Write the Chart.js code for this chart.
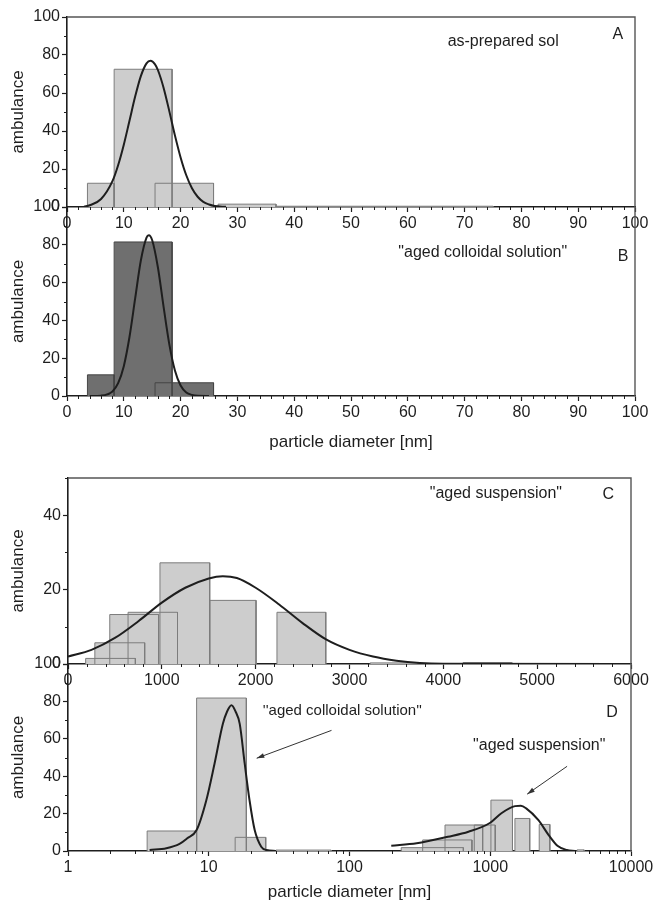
<!DOCTYPE html>
<html>
<head>
<meta charset="utf-8">
<script src="https://cdn.jsdelivr.net/npm/chart.js@4.4.1/dist/chart.umd.min.js"></script>
<style>
  html, body { margin: 0; padding: 0; background: #fff; }
  #wrap { position: relative; width: 653px; height: 903px; }
  #wrap canvas { position: absolute; left: 0; top: 0; }
</style>
</head>
<body>
<div id="wrap">
  <canvas id="cA" width="653" height="903"></canvas>
  <canvas id="cB" width="653" height="903"></canvas>
  <canvas id="cC" width="653" height="903"></canvas>
  <canvas id="cD" width="653" height="903"></canvas>
</div>
<script>
// --- panel A: as-prepared sol (diameter nm -> ambulance) ---
const binLoA = [3.6, 8.3, 15.5, 26.6, 36.8];
const binHiA = [8.3, 18.5, 25.8, 36.8, 75];
const binHA  = [12.5, 72.5, 12.5, 1.5, 0.4];
const fitXA = [3, 4, 6, 8, 9, 10, 11, 12, 13, 14, 14.7, 15.5, 16, 17, 18, 19, 20, 21, 22, 23, 24, 25, 26, 28];
const fitYA = [0.2, 0.9, 4.2, 13.6, 22, 32.8, 45.4, 58.1, 68.9, 75.6, 77, 75.1, 72.1, 62.8, 50.6, 37.7, 26.1, 16.7, 9.9, 5.4, 2.7, 1.3, 0.5, 0.1];

// --- panel B: aged colloidal solution ---
const binLoB = [3.6, 8.3, 15.5];
const binHiB = [8.3, 18.5, 25.8];
const binHB  = [11.2, 81.5, 7];
const fitXB = [4, 6, 8, 9, 10, 11, 12, 13, 14, 14.4, 15, 16, 17, 18, 19, 20, 21, 22, 23, 25];
const fitYB = [0, 0.2, 2.4, 6.8, 15.8, 31.2, 51.6, 71.7, 83.8, 85, 82.4, 68.1, 47.3, 27.6, 13.5, 5.6, 1.9, 0.6, 0.1, 0];

// --- panel C: aged suspension ---
const binLoC = [188, 286, 445, 640, 980, 1510, 2227, 3220, 4210];
const binHiC = [718, 817, 965, 1167, 1510, 2004, 2747, 3730, 4730];
const binHC  = [1.5, 5.7, 13.3, 13.9, 27.2, 17.1, 13.9, 0.3, 0.4];
const fitXC = [0, 250, 500, 750, 1000, 1250, 1500, 1650, 1800, 2000, 2250, 2500, 2750, 3000, 3250, 3500, 3750, 4000, 6000];
const fitYC = [2, 3.8, 7, 11.5, 16.5, 20.5, 23, 23.6, 23.1, 20.5, 16, 11, 6.6, 3.8, 2, 0.9, 0.3, 0.1, 0];

// --- panel D: both samples on a log axis ---
const binLoD = [3.65, 8.2, 15.4, 30, 233, 331, 477, 770, 1011, 1497, 2228, 4140];
const binHiD = [8.2, 18.5, 25.4, 74, 644, 741, 883, 1085, 1439, 1907, 2650, 4640];
const binHD  = [10.7, 81.8, 7.3, 0.5, 1.8, 5.9, 13.9, 13.9, 27.2, 17.4, 14.2, 0.6];
const fitXD1 = [3.8, 5, 6.2, 7, 8.2, 9.6, 11, 12.6, 13.5, 14.5, 15.5, 16.6, 18, 19.5, 21.2, 23.6, 25.7, 30];
const fitYD1 = [0.5, 1.5, 3.8, 6.7, 11.2, 27, 46.8, 68, 74.6, 77.9, 74.6, 68, 46.8, 27, 11.2, 2.3, 0.5, 0];
const fitXD2 = [198, 300, 500, 700, 1000, 1200, 1500, 1650, 1800, 2200, 2600, 3000, 3500, 4000];
const fitYD2 = [2.8, 4.1, 7.6, 10.3, 15.1, 20.2, 24, 24.2, 22.8, 16.5, 8.5, 2.8, 0.5, 0];

// tick labels
const xTicksLin = [0, 10, 20, 30, 40, 50, 60, 70, 80, 90, 100];
const yTicksAB = [0, 20, 40, 60, 80, 100];
const xTicksC = [0, 1000, 2000, 3000, 4000, 5000, 6000];
const yTicksC = [0, 20, 40];
const xTicksD = [1, 10, 100, 1000, 10000];
const yTicksD = [0, 20, 40, 60, 80, 100];

const FONT = "'Liberation Sans', Arial, sans-serif";
const INK = '#1e1e1e';
const LIGHT = '#cdcdcd', LIGHT_EDGE = '#7c7c7c';
const DARK = '#6f6f6f', DARK_EDGE = '#454545';

function barSets(lo, hi, h, fill, edge) {
  // each histogram bin as a closed step outline filled down to zero
  return lo.map((x0, i) => ({
    type: 'line',
    data: [{x: x0, y: 0}, {x: x0, y: h[i]}, {x: hi[i], y: h[i]}, {x: hi[i], y: 0}],
    fill: 'origin',
    backgroundColor: fill,
    borderColor: edge,
    borderWidth: 1,
    pointRadius: 0,
    tension: 0,
    order: 1
  }));
}
function fitSet(xs, ys) {
  return {
    type: 'line',
    data: xs.map((x, i) => ({x: x, y: ys[i]})),
    borderColor: INK, borderWidth: 2, pointRadius: 0, fill: false,
    cubicInterpolationMode: 'monotone', order: 0
  };
}
function minorLin(min, max, step, majorStep) {
  const out = [];
  for (let v = min; v <= max + 1e-9; v += step) {
    if (Math.abs(v / majorStep - Math.round(v / majorStep)) > 1e-6) out.push(v);
  }
  return out;
}
function minorLog(decades) {
  const out = [];
  decades.forEach(d => { for (let k = 2; k <= 9; k++) out.push(k * d); });
  return out;
}

const deco = {
  id: 'deco',
  afterDraw(chart, args, o) {
    const {ctx, chartArea: a} = chart;
    const x = chart.scales.x, y = chart.scales.y;
    ctx.save();
    ctx.strokeStyle = INK; ctx.lineWidth = 1;
    ctx.beginPath();
    o.xMinor.forEach(v => {
      const px = Math.round(x.getPixelForValue(v)) + 0.5;
      ctx.moveTo(px, a.bottom); ctx.lineTo(px, a.bottom + 3);
    });
    o.yMinor.forEach(v => {
      const py = Math.round(y.getPixelForValue(v)) + 0.5;
      ctx.moveTo(a.left, py); ctx.lineTo(a.left - 3, py);
    });
    ctx.stroke();
    // frame on the right (and top)
    ctx.strokeStyle = '#555'; ctx.lineWidth = 1.4;
    ctx.beginPath();
    ctx.moveTo(a.right, a.bottom); ctx.lineTo(a.right, a.top);
    if (o.top) ctx.lineTo(a.left, a.top);
    ctx.stroke();
    // texts
    ctx.fillStyle = INK; ctx.textAlign = 'center'; ctx.textBaseline = 'middle';
    o.notes.forEach(n => {
      ctx.font = (n.size || 16) + 'px ' + FONT;
      ctx.fillText(n.t, x.getPixelForValue(n.x), y.getPixelForValue(n.y));
    });
    // arrows
    ctx.strokeStyle = '#333'; ctx.fillStyle = '#333'; ctx.lineWidth = 1;
    (o.arrows || []).forEach(r => {
      const x0 = x.getPixelForValue(r.x0), y0 = y.getPixelForValue(r.y0);
      const x1 = x.getPixelForValue(r.x1), y1 = y.getPixelForValue(r.y1);
      const ang = Math.atan2(y1 - y0, x1 - x0);
      ctx.beginPath(); ctx.moveTo(x0, y0); ctx.lineTo(x1, y1); ctx.stroke();
      ctx.beginPath();
      ctx.moveTo(x1, y1);
      ctx.lineTo(x1 - 8 * Math.cos(ang - 0.3), y1 - 8 * Math.sin(ang - 0.3));
      ctx.lineTo(x1 - 8 * Math.cos(ang + 0.3), y1 - 8 * Math.sin(ang + 0.3));
      ctx.closePath(); ctx.fill();
    });
    ctx.restore();
  }
};

function panel(id, p) {
  const tickFont = {family: FONT, size: 16};
  new Chart(document.getElementById(id), {
    type: 'line',
    data: {datasets: [fitSet(p.fitX, p.fitY)].concat(p.extraFit ? [p.extraFit] : [], barSets(p.lo, p.hi, p.h, p.fill, p.edge))},
    options: {
      responsive: false, animation: false, events: [],
      layout: {padding: {left: 0, top: p.area.t, right: 653 - p.area.r, bottom: 903 - p.area.b - p.xh}},
      plugins: {
        legend: {display: false}, tooltip: {enabled: false},
        filler: {drawTime: 'beforeDatasetsDraw'},
        deco: {xMinor: p.xMinor, yMinor: p.yMinor, top: p.top, notes: p.notes, arrows: p.arrows}
      },
      scales: {
        x: {
          type: p.xType, min: p.xMin, max: p.xMax, position: 'bottom',
          afterBuildTicks: s => { s.ticks = p.xTicks.map(v => ({value: v})); },
          afterFit: s => { s.height = p.xh; s.paddingLeft = 0; s.paddingRight = 0; },
          ticks: {color: INK, font: tickFont, padding: 2, maxRotation: 0, autoSkip: false, callback: v => String(v)},
          grid: {drawOnChartArea: false, tickLength: 5, tickColor: INK, tickWidth: 1.2},
          border: {color: INK, width: 1.6},
          title: {display: !!p.xTitle, text: p.xTitle || '', color: INK, font: {family: FONT, size: 17}, padding: {top: 0, bottom: 0}}
        },
        y: {
          type: 'linear', min: 0, max: p.yMax, position: 'left',
          afterBuildTicks: s => { s.ticks = p.yTicks.map(v => ({value: v})); },
          afterFit: s => { s.width = p.area.l; s.paddingTop = 0; s.paddingBottom = 0; },
          ticks: {color: INK, font: tickFont, padding: 2, callback: v => String(v)},
          grid: {drawOnChartArea: false, tickLength: 5, tickColor: INK, tickWidth: 1.2},
          border: {color: INK, width: 1.6},
          title: {display: true, text: 'ambulance', color: INK, font: {family: FONT, size: 17}, padding: {top: 8, bottom: 0}}
        }
      }
    },
    plugins: [deco]
  });
}

panel('cA', {
  area: {l: 67, t: 17, r: 635, b: 207}, xh: 30, top: true,
  xType: 'linear', xMin: 0, xMax: 100, xTicks: xTicksLin, yMax: 100, yTicks: yTicksAB,
  xMinor: minorLin(0, 100, 2, 10), yMinor: minorLin(0, 100, 10, 20),
  lo: binLoA, hi: binHiA, h: binHA, fill: LIGHT, edge: LIGHT_EDGE, fitX: fitXA, fitY: fitYA,
  notes: [{t: 'as-prepared sol', x: 76.8, y: 86.8}, {t: 'A', x: 97, y: 90.5}]
});
panel('cB', {
  area: {l: 67, t: 207, r: 635, b: 396}, xh: 57, top: false, xTitle: 'particle diameter [nm]',
  xType: 'linear', xMin: 0, xMax: 100, xTicks: xTicksLin, yMax: 100, yTicks: yTicksAB,
  xMinor: minorLin(0, 100, 2, 10), yMinor: minorLin(0, 100, 10, 20),
  lo: binLoB, hi: binHiB, h: binHB, fill: DARK, edge: DARK_EDGE, fitX: fitXB, fitY: fitYB,
  notes: [{t: '"aged colloidal solution"', x: 73.2, y: 75.7}, {t: 'B', x: 97.9, y: 74}]
});
panel('cC', {
  area: {l: 68, t: 478, r: 631, b: 664}, xh: 30, top: true,
  xType: 'linear', xMin: 0, xMax: 6000, xTicks: xTicksC, yMax: 50, yTicks: yTicksC,
  xMinor: minorLin(0, 6000, 200, 1000), yMinor: minorLin(0, 50, 10, 20),
  lo: binLoC, hi: binHiC, h: binHC, fill: LIGHT, edge: LIGHT_EDGE, fitX: fitXC, fitY: fitYC,
  notes: [{t: '"aged suspension"', x: 4560, y: 45.8}, {t: 'C', x: 5758, y: 45.5}]
});
panel('cD', {
  area: {l: 68, t: 664, r: 631, b: 851}, xh: 52, top: false, xTitle: 'particle diameter [nm]',
  xType: 'logarithmic', xMin: 1, xMax: 10000, xTicks: xTicksD, yMax: 100, yTicks: yTicksD,
  xMinor: minorLog([1, 10, 100, 1000]), yMinor: minorLin(0, 100, 10, 20),
  lo: binLoD, hi: binHiD, h: binHD, fill: LIGHT, edge: LIGHT_EDGE, fitX: fitXD1, fitY: fitYD1,
  extraFit: fitSet(fitXD2, fitYD2),
  notes: [{t: "''aged colloidal solution''", x: 89, y: 75.2, size: 15}, {t: 'D', x: 7330, y: 74},
          {t: '"aged suspension"', x: 2228, y: 56.5}],
  arrows: [{x0: 74.5, y0: 64.5, x1: 21.9, y1: 49.6}, {x0: 3516, y0: 45.3, x1: 1829, y1: 30.4}]
});
</script>
</body>
</html>
